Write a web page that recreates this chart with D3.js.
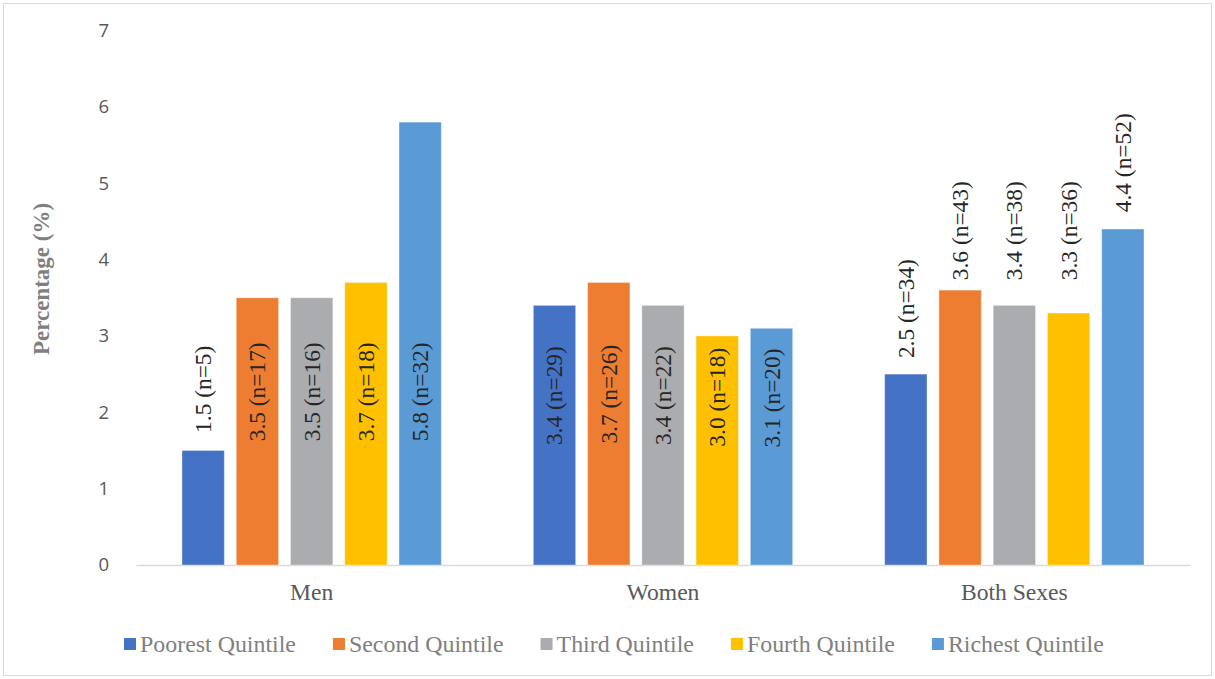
<!DOCTYPE html>
<html>
<head>
<meta charset="utf-8">
<script src="https://cdn.jsdelivr.net/npm/d3@7"></script>
<style>
  html, body { margin: 0; padding: 0; background: #fff; }
  svg { display: block; }
  .serif { font-family: "Times New Roman", "Liberation Serif", Tinos, "DejaVu Serif", serif; }
</style>
</head>
<body>
<svg id="chart" width="1215" height="679"></svg>
<script>
// ---- Data ----
const groups = ["Men", "Women", "Both Sexes"];
const quintiles = ["Poorest Quintile", "Second Quintile", "Third Quintile", "Fourth Quintile", "Richest Quintile"];
const menValues   = [1.5, 3.5, 3.5, 3.7, 5.8];
const womenValues = [3.4, 3.7, 3.4, 3.0, 3.1];
const bothValues  = [2.5, 3.6, 3.4, 3.3, 4.4];
const menN   = [5, 17, 16, 18, 32];
const womenN = [29, 26, 22, 18, 20];
const bothN  = [34, 43, 38, 36, 52];
const yTicks = [0, 1, 2, 3, 4, 5, 6, 7];
const yTitle = "Percentage (%)";

// ---- Layout / style ----
const colors = ["#4472C4", "#ED7D31", "#ABACAF", "#FFC000", "#5B9BD5"];
const W = 1215, H = 679;
const plot = { left: 136, right: 1190, top: 30.5, bottom: 565 };
// label bottom positions (value units) as arranged in the original chart
const labelAt = [
  [1.73, 1.62, 1.62, 1.62, 1.62],
  [1.57, 1.59, 1.57, 1.55, 1.54],
  [2.71, 3.73, 3.73, 3.73, 4.62]
];

const valuesByGroup = [menValues, womenValues, bothValues];
const nByGroup = [menN, womenN, bothN];

const svg = d3.select("#chart");

// border
svg.append("rect")
  .attr("x", 3.5).attr("y", 3.5)
  .attr("width", W - 7).attr("height", H - 7)
  .attr("fill", "#fff").attr("stroke", "#d9d9d9").attr("stroke-width", 1);

const y = d3.scaleLinear().domain([0, 7]).range([plot.bottom, plot.top]);
const x0 = d3.scaleBand().domain(groups).range([plot.left, plot.right]).padding(0);
const x1 = d3.scaleBand().domain(quintiles)
  .range([46, x0.bandwidth() - 46]).paddingInner(0.22).paddingOuter(0);

// y tick labels (no axis line)
const yAxis = d3.axisLeft(y).tickValues(yTicks).tickSize(0).tickPadding(0).tickFormat(d3.format("d"));
const gy = svg.append("g").attr("transform", `translate(109,0)`).call(yAxis);
gy.select(".domain").remove();
gy.selectAll("text")
  .attr("fill", "#595959")
  .attr("font-family", "'Open Sans', 'Liberation Sans', sans-serif")
  .attr("font-size", "18.5px");

// x axis
const xAxis = d3.axisBottom(x0).tickSize(0).tickPadding(0);
const gx = svg.append("g").attr("transform", `translate(0,${plot.bottom})`).call(xAxis);
gx.attr("font-family", null).attr("font-size", null);
gx.select(".domain").attr("stroke", "#d9d9d9").attr("stroke-width", 1.5);
gx.selectAll("text")
  .attr("class", "serif")
  .attr("fill", "#595959")
  .attr("dy", "0")
  .attr("y", 35)
  .attr("font-size", "23.6px");

// y title
svg.append("text")
  .attr("class", "serif")
  .attr("transform", `translate(49,279) rotate(-90)`)
  .attr("text-anchor", "middle")
  .attr("fill", "#7f7f7f")
  .attr("font-weight", "bold")
  .attr("font-size", "23px")
  .text(yTitle);

// bars
const gGroups = svg.append("g").selectAll("g")
  .data(groups)
  .join("g")
  .attr("transform", d => `translate(${x0(d)},0)`);

gGroups.each(function(g, gi) {
  const sel = d3.select(this);
  const vals = valuesByGroup[gi];
  const ns = nByGroup[gi];
  sel.selectAll("rect")
    .data(quintiles)
    .join("rect")
    .attr("x", d => x1(d))
    .attr("width", x1.bandwidth())
    .attr("y", (d, i) => y(vals[i]))
    .attr("height", (d, i) => y(0) - y(vals[i]))
    .attr("fill", (d, i) => colors[i])
    .attr("stroke", "rgba(255,255,255,0.35)")
    .attr("stroke-width", 1);

  sel.selectAll("text.lbl")
    .data(quintiles)
    .join("text")
    .attr("class", "lbl serif")
    .attr("transform", (d, i) => `translate(${x1(d) + x1.bandwidth() / 2},${y(labelAt[gi][i])}) rotate(-90)`)
    .attr("text-anchor", "start")
    .attr("dominant-baseline", "central")
    .attr("fill", "#262626")
    .attr("font-size", "23.4px")
    .text((d, i) => `${vals[i].toFixed(1)} (n=${ns[i]})`);
});

// legend
const legend = svg.append("g").attr("transform", "translate(124,0)");
let lx = 0;
quintiles.forEach((q, i) => {
  const item = legend.append("g").attr("transform", `translate(${lx},0)`);
  item.append("rect").attr("x", 0).attr("y", 638).attr("width", 12).attr("height", 12).attr("fill", colors[i]);
  const t = item.append("text")
    .attr("class", "serif")
    .attr("x", 16).attr("y", 651.5)
    .attr("fill", "#7f7f7f")
    .attr("font-size", "23.9px")
    .text(q);
  lx += 16 + t.node().getComputedTextLength() + 37;
});
</script>
</body>
</html>
